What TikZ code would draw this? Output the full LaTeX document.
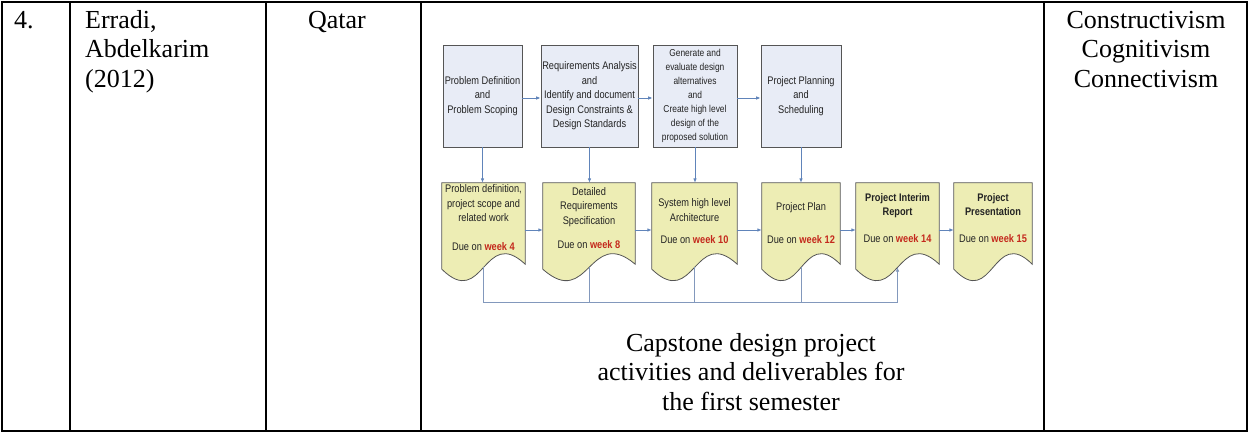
\documentclass[tikz,border=0pt]{standalone}
\usepackage{fontspec}
\setmainfont{Liberation Serif}
\newfontfamily\dfont[FakeStretch=0.84]{Liberation Sans}
\usetikzlibrary{arrows.meta,calc}

\definecolor{boxfill}{RGB}{232,236,246}
\definecolor{docfill}{RGB}{237,237,180}
\definecolor{edge}{RGB}{85,85,85}
\definecolor{flow}{RGB}{96,132,186}
\definecolor{fbline}{RGB}{130,152,188}
\definecolor{wkred}{RGB}{196,40,28}
\definecolor{ink}{RGB}{35,35,35}

\pgfdeclarelayer{background}
\pgfsetlayers{background,main}

% red bold week number
\newcommand\wk[1]{\textbf{\color{wkred}#1}}

% document shape (flat top, wavy bottom) around a deliverable node
\newcommand\docoutline[1]{%
  \begin{pgfonlayer}{background}
    \path[docshape] (#1.north west) -- (#1.north east) -- ($(#1.south east)+(0,11)$)
      .. controls ($(#1.south)+(0,-28)$) and ($(#1.south)+(0,57)$) .. ($(#1.south west)+(0,16)$) -- cycle;
  \end{pgfonlayer}}

\begin{document}
\begin{tikzpicture}[x=1pt,y=-1pt,
  tbl/.style={line width=2.2pt, draw=black},
  cell/.style={font=\fontsize{26}{29.5}\selectfont, inner sep=0pt, align=center},
  actbox/.style={draw=edge, fill=boxfill, line width=0.8pt, inner sep=0pt,
    minimum height=102pt, text=ink, align=center,
    font=\dfont\fontsize{11}{14.5}\selectfont},
  docbox/.style={inner sep=0pt, minimum height=70pt, text=ink, align=center,
    font=\dfont\fontsize{11}{14.5}\selectfont},
  docshape/.style={draw=edge, fill=docfill, line width=0.8pt},
  flowarrow/.style={draw=flow, line width=0.9pt, -{Latex[length=4.5pt,width=3.6pt]}},
  fb/.style={draw=fbline, line width=0.8pt}
]
\useasboundingbox (0,0) rectangle (1249,433);

% table grid
\draw[tbl] (2,2) rectangle (1247,431);
\foreach \x in {70,266,421,1044} \draw[tbl] (\x,2) -- (\x,431);

% table cells (base anchor = baseline of the last line)
\node[cell, anchor=base west] (num) at (14,28.5) {4.};
\node[cell, anchor=base west, align=left] (auth) at (85,87.5) {Erradi,\\Abdelkarim\\(2012)};
\node[cell, anchor=base] (ctry) at (337,28.5) {Qatar};
\node[cell, anchor=base] (theo) at (1146,87.5) {Constructivism\\Cognitivism\\Connectivism};
\node[cell, anchor=base] (cap) at (751,410) {Capstone design project\\activities and deliverables for\\the first semester};

% activities
\node[actbox, minimum width=79pt] (b1) at (482.5,96) {Problem Definition\\and\\Problem Scoping};
\node[actbox, minimum width=97pt] (b2) at (589.5,96) {Requirements Analysis\\and\\Identify and document\\Design Constraints \&\\Design Standards};
\node[actbox, minimum width=84pt, font=\dfont\fontsize{10}{14}\selectfont] (b3) at (695,96) {Generate and\\evaluate design\\alternatives\\and\\Create high level\\design of the\\proposed solution};
\node[actbox, minimum width=80pt] (b4) at (801,96) {Project Planning\\and\\Scheduling};

% deliverables
\node[docbox, minimum width=83pt] (d1) at (483.5,218) {Problem definition,\\project scope and\\related work\\[14.5pt]Due on \wk{week 4}};
\node[docbox, minimum width=92pt] (d2) at (589,218) {Detailed\\Requirements\\Specification\\[10pt]Due on \wk{week 8}};
\node[docbox, minimum width=85pt] (d3) at (694.5,218) {\rule{0pt}{15pt}System high level\\Architecture\\[8pt]Due on \wk{week 10}};
\node[docbox, minimum width=78pt] (d4) at (801,218) {\rule{0pt}{19pt}Project Plan\\[18.5pt]Due on \wk{week 12}};
\node[docbox, minimum width=83pt] (d5) at (897.5,218) {\textbf{Project Interim}\\\textbf{Report}\\[12pt]Due on \wk{week 14}};
\node[docbox, minimum width=78pt] (d6) at (993,218) {\textbf{Project}\\\textbf{Presentation}\\[12pt]Due on \wk{week 15}};
\foreach \d in {d1,d2,d3,d4,d5,d6} \docoutline{\d};

% activity flow
\draw[flowarrow] ([yshift=-2pt]b1.east) -- ([yshift=-2pt]b2.west);
\draw[flowarrow] ([yshift=-2pt]b2.east) -- ([yshift=-2pt]b3.west);
\draw[flowarrow] ([yshift=-2pt]b3.east) -- ([yshift=-2pt]b4.west);

% activities to deliverables
\foreach \i in {1,2,3,4} \draw[flowarrow] (b\i.south) -- (b\i.south |- d\i.north);

% deliverable sequence
\draw[flowarrow] ([yshift=-12pt]d1.east) -- ([yshift=-12pt]d2.west);
\draw[flowarrow] ([yshift=-12pt]d2.east) -- ([yshift=-12pt]d3.west);
\draw[flowarrow] ([yshift=-12pt]d3.east) -- ([yshift=-12pt]d4.west);
\draw[flowarrow] ([yshift=-12pt]d4.east) -- ([yshift=-12pt]d5.west);
\draw[flowarrow] ([yshift=-12pt]d5.east) -- ([yshift=-12pt]d6.west);

% earlier deliverables feed the interim report
\draw[fb, -{Latex[length=4.5pt,width=3.6pt]}] ($(d1.south)+(0,14)$) -- ($(d1.south)+(0,49)$) -| ($(d5.south)+(0,14)$);
\foreach \d in {d2,d3,d4} \draw[fb] ($(\d.south)+(0,14)$) -- ($(\d.south)+(0,49)$);
\end{tikzpicture}
\end{document}
